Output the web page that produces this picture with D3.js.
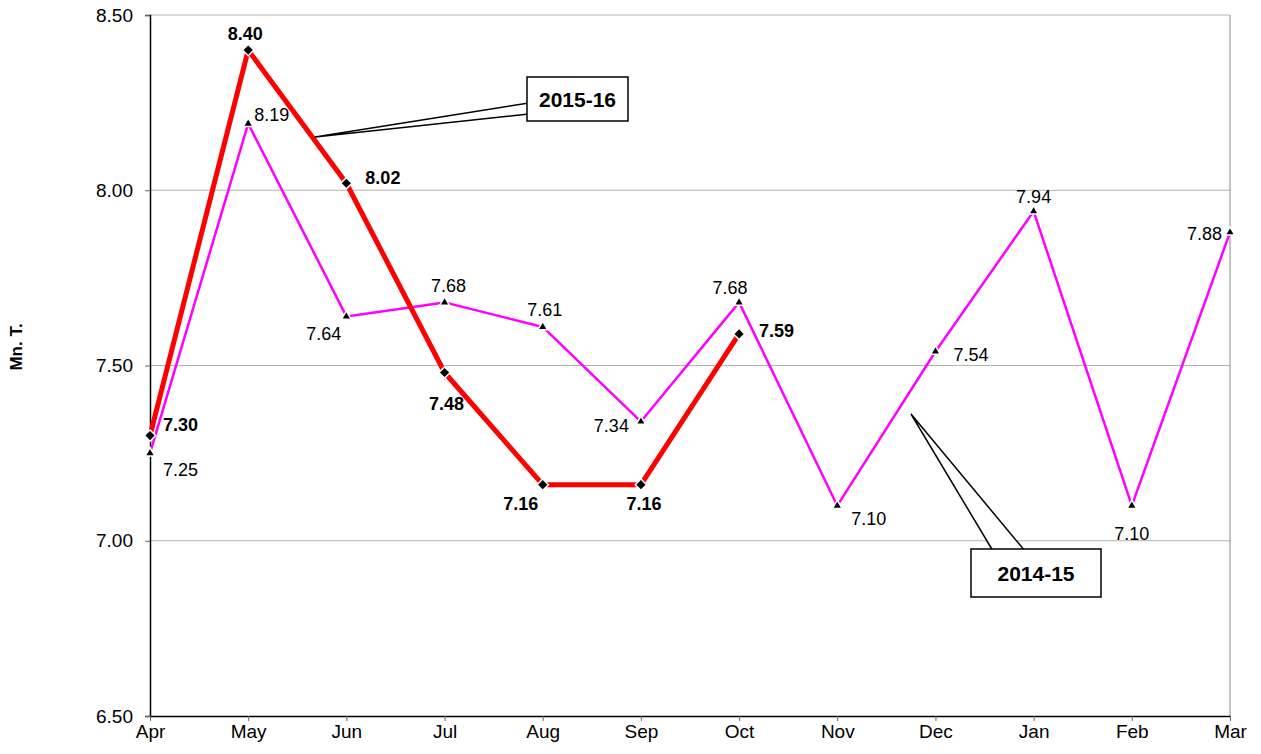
<!DOCTYPE html>
<html>
<head>
<meta charset="utf-8">
<script src="https://cdn.jsdelivr.net/npm/d3@7"></script>
<style>
  body { margin: 0; background: #fff; }
  text { font-family: 'Liberation Sans', Arial, sans-serif; }
</style>
</head>
<body>
<div class="chart"></div>
<script>
// Monthly figures, Mn. T.
const MONTHS = ['Apr', 'May', 'Jun', 'Jul', 'Aug', 'Sep', 'Oct', 'Nov', 'Dec', 'Jan', 'Feb', 'Mar']
const Y_TICKS = [6.5, 7.0, 7.5, 8.0, 8.5]

const SERIES_1415 = [7.25, 8.19, 7.64, 7.68, 7.61, 7.34, 7.68, 7.10, 7.54, 7.94, 7.10, 7.88]
const SERIES_1516 = [7.30, 8.40, 8.02, 7.48, 7.16, 7.16, 7.59]

// where each data label sits relative to its point [dx, dy], text-anchor
const OFFSETS_1415 = [[13, 17, 'start'], [6, -9, 'start'], [-5, 17, 'end'], [4, -17, 'middle'], [2, -17, 'middle'],
    [-12, 4, 'end'], [-9, -15, 'middle'], [14, 13, 'start'], [18, 3, 'start'], [0, -15, 'middle'], [0, 28, 'middle'], [-8, 1, 'end']]
const OFFSETS_1516 = [[13, -11, 'start'], [-3, -16, 'middle'], [19, -6, 'start'], [2, 31, 'middle'], [-22, 19, 'middle'],
    [3, 19, 'middle'], [20, -3, 'start']]

const W = 1261, H = 754
const margin = { top: 15, right: 31, bottom: 38, left: 150 }

const svg = d3.select('.chart').append('svg')
    .attr('width', W)
    .attr('height', H)

const xScale = d3.scalePoint()
    .domain(MONTHS)
    .range([margin.left, W - margin.right])

const yScale = d3.scaleLinear()
    .domain([6.5, 8.5])
    .range([H - margin.bottom, margin.top])

// gridlines
svg.append('g')
    .selectAll('line')
    .data(Y_TICKS.slice(1))
    .enter()
    .append('line')
    .attr('x1', margin.left)
    .attr('x2', W - margin.right)
    .attr('y1', d => yScale(d))
    .attr('y2', d => yScale(d))
    .attr('stroke', '#b3b3b3')
    .attr('stroke-width', 1)

// right border
svg.append('line')
    .attr('x1', W - margin.right).attr('x2', W - margin.right)
    .attr('y1', margin.top).attr('y2', H - margin.bottom)
    .attr('stroke', '#8a8a8a')

const yAxis = svg.append('g')
    .attr('transform', `translate(${margin.left},0)`)
    .call(d3.axisLeft(yScale).tickValues(Y_TICKS).tickFormat(d3.format('.2f')).tickSize(5).tickPadding(12))
yAxis.select('.domain').attr('stroke', '#000').attr('stroke-width', 1.5)
yAxis.selectAll('.tick line').attr('stroke', '#666')
yAxis.selectAll('text').attr('font-size', '19px').attr('fill', '#000').attr('font-family', 'Liberation Sans, Arial')

const xAxis = svg.append('g')
    .attr('transform', `translate(0,${H - margin.bottom})`)
    .call(d3.axisBottom(xScale).tickSize(5).tickPadding(4).tickSizeOuter(0))
xAxis.select('.domain').attr('stroke', '#000').attr('stroke-width', 1.5)
xAxis.selectAll('.tick line').attr('stroke', '#666')
xAxis.selectAll('text').attr('font-size', '19px').attr('fill', '#000').attr('font-family', 'Liberation Sans, Arial')

svg.append('text')
    .attr('transform', `translate(22, 347) rotate(-90)`)
    .attr('text-anchor', 'middle')
    .attr('font-size', '17px')
    .attr('font-weight', 'bold')
    .text('Mn. T.')

function drawSeries(values, color, width, symbol, size, rotate, offsets, bold) {
    const pts = values.map((v, i) => ({ m: MONTHS[i], v: v, off: offsets[i] }))
    const line = d3.line().x(d => xScale(d.m)).y(d => yScale(d.v))
    svg.append('path')
        .datum(pts)
        .attr('d', line)
        .attr('fill', 'none')
        .attr('stroke', color)
        .attr('stroke-width', width)
        .attr('stroke-linejoin', 'round')

    svg.append('g')
        .selectAll('path')
        .data(pts)
        .enter()
        .append('path')
        .attr('d', d3.symbol().type(symbol).size(size))
        .attr('transform', d => `translate(${xScale(d.m)},${yScale(d.v)}) rotate(${rotate})`)
        .attr('fill', '#000')
        .attr('stroke', '#fff')
        .attr('stroke-width', 1.5)

    svg.append('g')
        .selectAll('text')
        .data(pts)
        .enter()
        .append('text')
        .attr('x', d => xScale(d.m) + d.off[0])
        .attr('y', d => yScale(d.v) + d.off[1])
        .attr('dy', '0.35em')
        .attr('text-anchor', d => d.off[2])
        .attr('font-size', '18px')
        .attr('font-weight', bold ? 'bold' : 'normal')
        .text(d => d.v.toFixed(2))
}

drawSeries(SERIES_1415, '#ff00ff', 2.5, d3.symbolTriangle, 40, 0, OFFSETS_1415, false)
drawSeries(SERIES_1516, '#ff0000', 5, d3.symbolSquare, 64, 45, OFFSETS_1516, true)

// callouts
function callout(tip, base1, base2, box, label) {
    const g = svg.append('g')
    g.append('path')
        .attr('d', `M${base1[0]},${base1[1]}L${tip[0]},${tip[1]}L${base2[0]},${base2[1]}`)
        .attr('fill', '#fff')
        .attr('stroke', '#000')
        .attr('stroke-width', 1.5)
    g.append('rect')
        .attr('x', box.x).attr('y', box.y)
        .attr('width', box.w).attr('height', box.h)
        .attr('fill', '#fff')
        .attr('stroke', '#000')
        .attr('stroke-width', 1.5)
    g.append('text')
        .attr('x', box.x + box.w / 2)
        .attr('y', box.y + box.h / 2)
        .attr('dy', '0.36em')
        .attr('text-anchor', 'middle')
        .attr('font-size', '21px')
        .attr('font-weight', 'bold')
        .text(label)
}

callout([315, 137], [529, 103], [529, 114], { x: 527, y: 77, w: 101, h: 44 }, '2015-16')
callout([911, 414], [993, 551], [1025, 551], { x: 971, y: 549, w: 130, h: 48 }, '2014-15')
</script>
</body>
</html>
